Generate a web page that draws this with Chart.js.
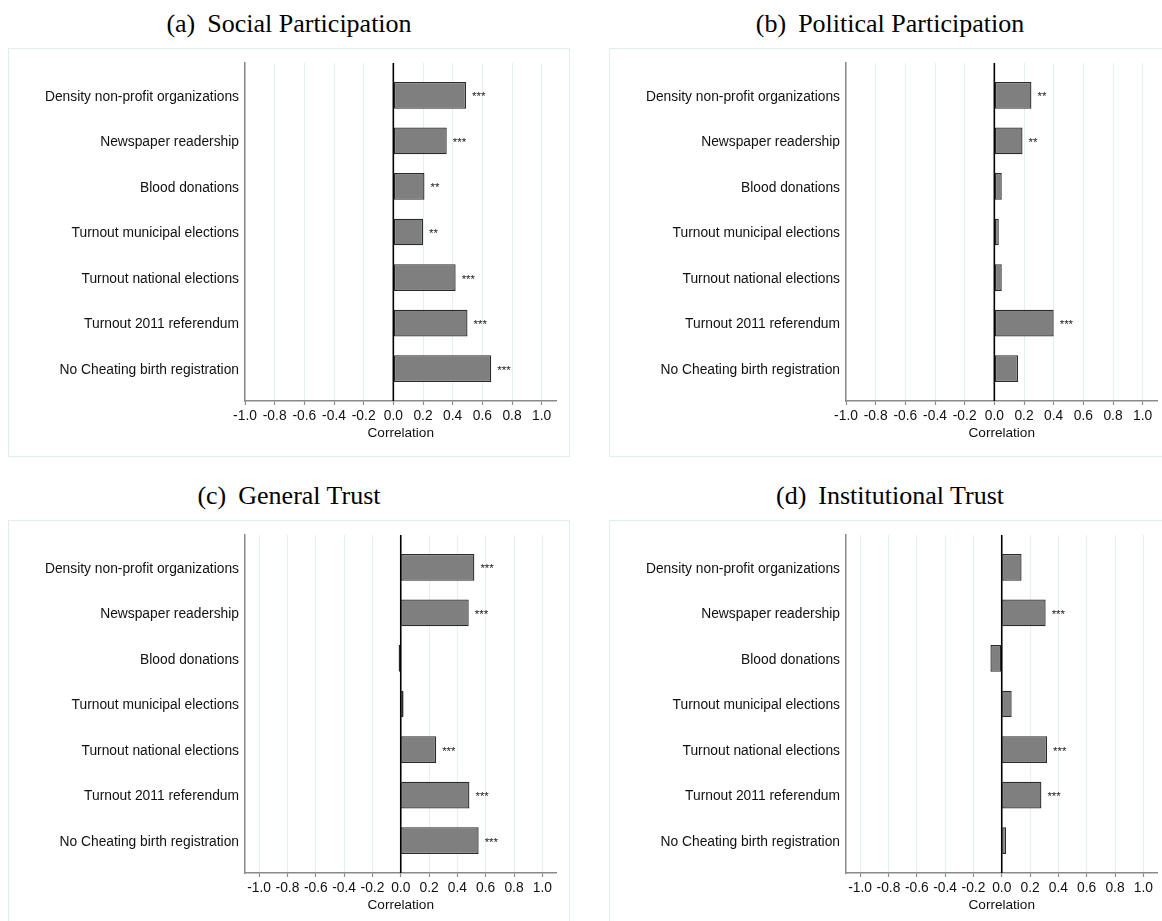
<!DOCTYPE html>
<html>
<head>
<meta charset="utf-8">
<title>Correlations with social capital indicators</title>
<script src="https://cdn.jsdelivr.net/npm/chart.js@4.4.1/dist/chart.umd.min.js"></script>
<style>
  html, body { margin: 0; padding: 0; background: #fff; width: 1162px; height: 921px; overflow: hidden; }
  .title {
    position: absolute; width: 562px; text-align: center; white-space: nowrap;
    font-family: "Liberation Serif", "Times New Roman", serif; font-size: 26px; line-height: 30px; color: #000;
  }
  .title span { margin-right: 12px; }
  .box { position: absolute; box-sizing: border-box; width: 562px; height: 409px; border: 1px solid #e3ecee; }
  canvas { position: absolute; }
</style>
</head>
<body>
<script>
// Indicators, listed top to bottom
const categories = [
  'Density non-profit organizations',
  'Newspaper readership',
  'Blood donations',
  'Turnout municipal elections',
  'Turnout national elections',
  'Turnout 2011 referendum',
  'No Cheating birth registration'
];

// Correlation axis tick labels
const tickValues = [-1.0, -0.8, -0.6, -0.4, -0.2, 0.0, 0.2, 0.4, 0.6, 0.8, 1.0];

// (a) Social Participation
const socialValues = [0.49, 0.36, 0.21, 0.20, 0.42, 0.50, 0.66];
const socialStars  = ['***', '***', '**', '**', '***', '***', '***'];

// (b) Political Participation
const politicalValues = [0.25, 0.19, 0.05, 0.03, 0.05, 0.40, 0.16];
const politicalStars  = ['**', '**', '', '', '', '***', ''];

// (c) General Trust
const generalValues = [0.52, 0.48, -0.015, 0.02, 0.25, 0.485, 0.55];
const generalStars  = ['***', '***', '', '', '***', '***', '***'];

// (d) Institutional Trust
const institutionalValues = [0.14, 0.31, -0.08, 0.07, 0.32, 0.28, 0.03];
const institutionalStars  = ['', '***', '', '', '***', '***', ''];

const SANS = '"Liberation Sans", Arial, Helvetica, sans-serif';

// Black reference line at zero plus significance stars next to each bar
const overlay = {
  id: 'overlay',
  afterDatasetsDraw(chart) {
    const { ctx, chartArea, scales: { x } } = chart;
    const x0 = x.getPixelForValue(0);
    ctx.save();
    ctx.strokeStyle = '#000';
    ctx.lineWidth = 1.6;
    ctx.beginPath();
    ctx.moveTo(x0, chartArea.top);
    ctx.lineTo(x0, chartArea.bottom);
    ctx.stroke();

    const ds = chart.data.datasets[0];
    const meta = chart.getDatasetMeta(0);
    ctx.font = '11.5px ' + SANS;
    ctx.fillStyle = '#222';
    ctx.textAlign = 'left';
    ctx.textBaseline = 'alphabetic';
    meta.data.forEach((bar, i) => {
      const s = ds.stars[i];
      if (s) ctx.fillText(s, Math.max(bar.x, x0) + 6, bar.y + 5);
    });
    ctx.restore();
  }
};

function panel(letter, name, values, stars, xMin, xMax, left, top) {
  const t = document.createElement('div');
  t.className = 'title';
  t.style.left = left + 'px';
  t.style.top = (top - 39) + 'px';
  t.innerHTML = '<span>(' + letter + ')</span>' + name;
  document.body.appendChild(t);

  const box = document.createElement('div');
  box.className = 'box';
  box.style.left = left + 'px';
  box.style.top = top + 'px';
  document.body.appendChild(box);

  const canvas = document.createElement('canvas');
  canvas.width = 562;
  canvas.height = 409;
  canvas.style.left = left + 'px';
  canvas.style.top = top + 'px';
  document.body.appendChild(canvas);

  new Chart(canvas, {
    type: 'bar',
    data: {
      datasets: [{
        data: values.map((v, i) => ({ x: v, y: i + 1 })),
        stars: stars,
        backgroundColor: '#7f7f7f',
        borderColor: '#2a2a2a',
        borderWidth: 1.3,
        borderSkipped: false,
        categoryPercentage: 1,
        barPercentage: 0.587
      }]
    },
    options: {
      indexAxis: 'y',
      responsive: false,
      animation: false,
      devicePixelRatio: 1,
      layout: { padding: { top: 15, right: 13.5, left: 0, bottom: 0 } },
      plugins: { legend: { display: false }, tooltip: { enabled: false } },
      scales: {
        x: {
          type: 'linear',
          min: xMin,
          max: xMax,
          afterFit(s) { s.height = 56; },
          afterBuildTicks(s) { s.ticks = tickValues.map(v => ({ value: v })); },
          ticks: {
            callback: v => Number(v).toFixed(1),
            color: '#111',
            font: { family: SANS, size: 13.8 },
            padding: 3,
            maxRotation: 0,
            autoSkip: false
          },
          grid: { color: '#e5eef1', lineWidth: 1, drawTicks: true, tickLength: 4, tickColor: '#8a8a8a', tickWidth: 1.2 },
          border: { display: true, color: '#8a8a8a', width: 1.5 },
          title: {
            display: true,
            text: 'Correlation',
            color: '#111',
            font: { family: SANS, size: 13.6, lineHeight: 1.2 },
            padding: { top: 0, bottom: 15.5 }
          }
        },
        y: {
          type: 'linear',
          reverse: true,
          offset: false,
          min: 0.29,
          max: 7.71,
          afterFit(s) { s.width = 237; },
          afterBuildTicks(s) { s.ticks = categories.map((c, i) => ({ value: i + 1 })); },
          ticks: {
            callback: v => categories[Math.round(v) - 1],
            color: '#111',
            font: { family: SANS, size: 13.8 },
            padding: 6,
            labelOffset: 1.5,
            autoSkip: false
          },
          grid: { display: false, drawTicks: false },
          border: { display: true, color: '#8a8a8a', width: 1.5 }
        }
      }
    },
    plugins: [overlay]
  });
}

panel('a', 'Social Participation', socialValues, socialStars, -1.0, 1.1, 8, 48);
panel('b', 'Political Participation', politicalValues, politicalStars, -1.0, 1.1, 609, 48);
panel('c', 'General Trust', generalValues, generalStars, -1.1, 1.1, 8, 520);
panel('d', 'Institutional Trust', institutionalValues, institutionalStars, -1.1, 1.1, 609, 520);
</script>
</body>
</html>
